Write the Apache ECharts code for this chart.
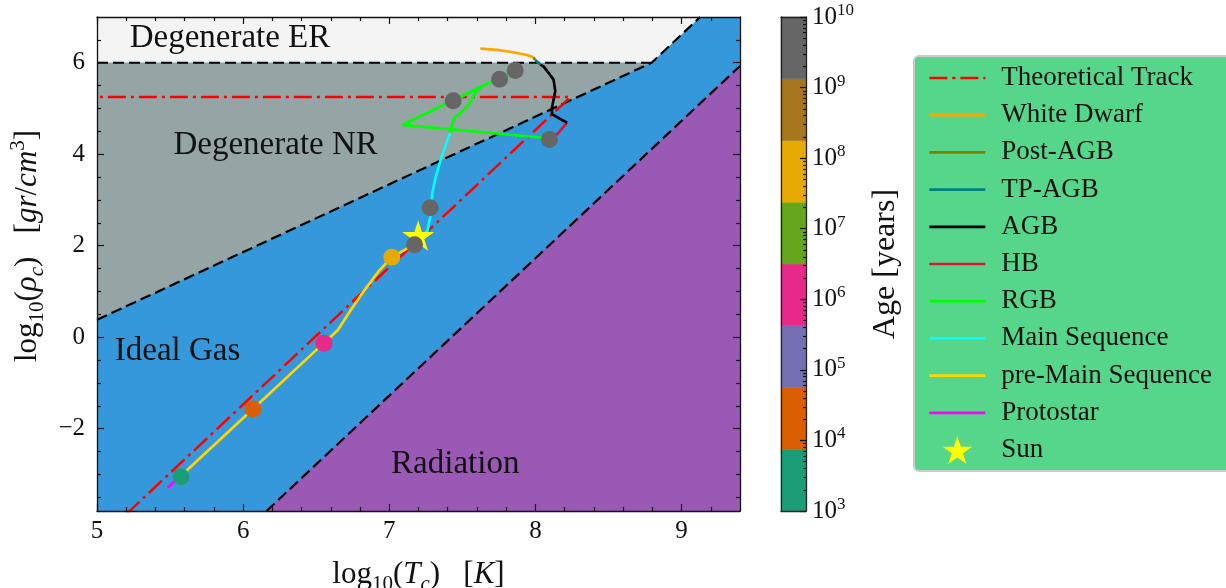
<!DOCTYPE html>
<html>
<head>
<meta charset="utf-8">
<script src="https://cdn.jsdelivr.net/npm/echarts@6/dist/echarts.min.js"></script>
<style>
  html, body { margin: 0; padding: 0; background: #ffffff; }
  #chart { width: 1226px; height: 588px; }
</style>
</head>
<body>
<div id="chart"></div>
<script>
// ---------------- data ----------------
// axes
const xTicks = [5, 6, 7, 8, 9];
const yTicks = [-2, 0, 2, 4, 6];
const ageTicks = [3, 4, 5, 6, 7, 8, 9, 10];          // log10(age / yr)
const ageBandEdges = [3, 3.875, 4.75, 5.625, 6.5, 7.375, 8.25, 9.125, 10];
const ageBandColors = ['#1b9e77', '#d95f02', '#7570b3', '#e7298a', '#66a61e', '#e6ab02', '#a6761d', '#666666'];

// equation-of-state regimes, (log10 Tc, log10 rho_c)
const idealGasRegion = [[5, -3.8], [9.4, -3.8], [9.4, 7], [5, 7]];
const degenerateERRegion = [[5, 6], [8.795, 6], [9.128, 7], [5, 7]];
const degenerateNRRegion = [[5, 0.38], [8.795, 6], [5, 6]];
const radiationRegion = [[6.16, -3.8], [9.4, -3.8], [9.4, 5.93]];
const nrBoundary = [[5, 0.38], [8.795, 6], [9.128, 7]];
const erBoundary = [[5, 6], [8.795, 6]];
const radBoundary = [[6.16, -3.8], [9.4, 5.93]];

// theoretical track: adiabatic contraction, then degeneracy plateau
const theoreticalTrack = [[5.2, -3.87], [8.24, 5.25], [5.0, 5.25]];

// evolutionary phases of the stellar model
const protostar = [[5.482, -3.29], [5.562, -3.07]];
const preMainSequence = [[5.562, -3.07], [6.067, -1.57], [6.551, -0.13], [6.647, 0.15], [6.736, 0.59],
  [6.831, 1.03], [6.927, 1.44], [7.016, 1.75], [7.111, 1.92], [7.175, 2.03]];
const mainSequence = [[7.175, 2.03], [7.2, 2.13], [7.262, 2.33], [7.282, 2.66], [7.294, 3.14],
  [7.317, 3.49], [7.35, 3.86], [7.396, 4.29], [7.418, 4.47]];
const rgb = [[7.418, 4.47], [7.43, 4.65], [7.446, 4.80], [7.487, 4.90], [7.543, 5.08], [7.589, 5.34],
  [7.635, 5.49], [7.703, 5.58], [7.76, 5.67], [7.828, 5.78], [7.862, 5.83], [7.726, 5.63],
  [7.439, 5.17], [7.726, 5.63], [7.089, 4.64], [8.055, 4.36]];
const hb = [[8.055, 4.36], [8.146, 4.43], [8.182, 4.56], [8.217, 4.69]];
const agb = [[8.217, 4.69], [8.192, 4.73], [8.113, 4.88], [8.113, 5.01], [8.136, 5.38],
  [8.124, 5.63], [8.09, 5.78], [8.055, 5.92], [8.033, 5.96]];
const tpAgb = [[8.033, 5.96], [7.999, 6.06]];
const postAgb = [[7.999, 6.06], [7.986, 6.12]];
const whiteDwarf = [[7.986, 6.12], [7.942, 6.17], [7.849, 6.23], [7.737, 6.28], [7.623, 6.31]];

const sun = [[7.198, 2.22]];
// snapshots along the track: log10 Tc, log10 rho_c, log10 age
const snapshots = [[5.575, -3.05, 3.5], [6.067, -1.57, 4.3], [6.553, -0.13, 6.0], [7.017, 1.75, 7.9],
  [7.173, 2.02, 9.6], [7.28, 2.83, 9.8], [7.437, 5.17, 9.95], [7.755, 5.64, 9.97],
  [7.862, 5.83, 9.98], [8.096, 4.32, 9.99]];

const regimeLabels = [
  { name: 'Degenerate ER', value: [5.22, 6.54] },
  { name: 'Degenerate NR', value: [5.52, 4.19] },
  { name: 'Ideal Gas', value: [5.118, -0.32] },
  { name: 'Radiation', value: [7.009, -2.79] }
];

// ---------------- helpers ----------------
const FONT = '"Liberation Serif", "DejaVu Serif", serif';
const AX = '#111111';

const xMinor = [];
for (let i = 1; i < 22; i++) { const v = +(5 + i * 0.2).toFixed(1); if (!Number.isInteger(v)) xMinor.push(v); }
const yMinor = [];
for (let v = -3.5; v <= 6.5; v += 0.5) { if (!(Number.isInteger(v) && v % 2 === 0)) yMinor.push(v); }
const ageMinor = [];
for (let n = 3; n < 10; n++) for (let k = 2; k <= 9; k++) ageMinor.push(n + Math.log10(k));

function tickFmt(v) { return v < 0 ? '\u2212' + Math.abs(v) : String(v); }

function starSymbol() {
  let d = '';
  for (let i = 0; i < 10; i++) {
    const r = i % 2 ? 0.382 : 1;
    const a = -Math.PI / 2 + i * Math.PI / 5;
    d += (i ? 'L' : 'M') + (r * Math.cos(a)).toFixed(4) + ' ' + (r * Math.sin(a)).toFixed(4) + ' ';
  }
  return 'path://' + d + 'Z';
}

function bandColor(logAge) {
  for (let i = 0; i < ageBandColors.length; i++) {
    if (logAge < ageBandEdges[i + 1]) return ageBandColors[i];
  }
  return ageBandColors[ageBandColors.length - 1];
}

function frameLine(color) {
  return { show: true, onZero: false, lineStyle: { color: color || AX, width: 1.3 } };
}

function valueAxis(extra) {
  return Object.assign({
    type: 'value', z: 6, scale: false,
    splitLine: { show: false },
    axisLine: { show: false, onZero: false },
    axisTick: { show: false },
    axisLabel: { show: false },
    minorTick: { show: false },
    minorSplitLine: { show: false }
  }, extra);
}

function ticksAt(values, len) {
  return { show: true, inside: true, length: len, customValues: values, lineStyle: { color: AX, width: 1.2 } };
}

const regions = [
  { pts: idealGasRegion, color: '#3498db' },
  { pts: degenerateERRegion, color: '#f4f4f4' },
  { pts: degenerateNRRegion, color: '#95a5a6' },
  { pts: radiationRegion, color: '#9b59b6' }
];

function phaseLine(name, data, color) {
  return {
    name: name, type: 'line', data: data, xAxisIndex: 0, yAxisIndex: 0,
    symbol: 'none', showSymbol: false, z: 5, clip: true, animation: false,
    lineStyle: { color: color, width: 2.7 }, itemStyle: { color: color }
  };
}

function boundaryLine(data) {
  return {
    type: 'line', data: data, xAxisIndex: 0, yAxisIndex: 0, symbol: 'none', z: 3,
    silent: true, animation: false, clip: true,
    lineStyle: { color: '#000000', width: 2.2, type: [11, 5] }
  };
}

const axisNameRich = {
  r: { fontFamily: FONT, fontSize: 31, lineHeight: 40, color: AX, verticalAlign: 'middle' },
  i: { fontFamily: FONT, fontSize: 31, lineHeight: 40, color: AX, fontStyle: 'italic', verticalAlign: 'middle' },
  s: { fontFamily: FONT, fontSize: 21, lineHeight: 28, color: AX, verticalAlign: 'bottom' },
  si: { fontFamily: FONT, fontSize: 21, lineHeight: 28, color: AX, fontStyle: 'italic', verticalAlign: 'bottom' },
  p: { fontFamily: FONT, fontSize: 21, lineHeight: 26, color: AX, verticalAlign: 'top' }
};

const legendNames = ['Theoretical Track', 'White Dwarf', 'Post-AGB', 'TP-AGB', 'AGB', 'HB', 'RGB',
  'Main Sequence', 'pre-Main Sequence', 'Protostar'];

const chart = echarts.init(document.getElementById('chart'), null, { renderer: 'canvas' });

const option = {
  backgroundColor: '#ffffff',
  animation: false,
  textStyle: { fontFamily: FONT },
  grid: [
    { left: 97, top: 17, width: 643, height: 494, containLabel: false, outerBoundsMode: 'none', show: false },
    { left: 781, top: 17, width: 25, height: 494, containLabel: false, outerBoundsMode: 'none', show: false }
  ],
  xAxis: [
    valueAxis({
      gridIndex: 0, position: 'bottom', min: 5, max: 9.4,
      axisLine: frameLine(),
      axisTick: ticksAt(xTicks, 7),
      axisLabel: { show: true, customValues: xTicks, formatter: tickFmt, margin: 8,
        fontFamily: FONT, fontSize: 25, color: AX },
      name: '{r|log}{s|10}{r|(}{i|T}{si|c}{r|)   [}{i|K}{r|]}',
      nameLocation: 'middle', nameGap: 44,
      nameTextStyle: { rich: axisNameRich }
    }),
    valueAxis({ gridIndex: 0, position: 'bottom', min: 5, max: 9.4, axisTick: ticksAt(xMinor, 4) }),
    valueAxis({ gridIndex: 0, position: 'top', min: 5, max: 9.4, axisLine: frameLine(), axisTick: ticksAt(xTicks, 7) }),
    valueAxis({ gridIndex: 0, position: 'top', min: 5, max: 9.4, axisTick: ticksAt(xMinor, 4) }),
    valueAxis({ gridIndex: 1, position: 'bottom', min: 0, max: 1, axisLine: frameLine('#222') }),
    valueAxis({ gridIndex: 1, position: 'top', min: 0, max: 1, axisLine: frameLine('#222') })
  ],
  yAxis: [
    valueAxis({
      gridIndex: 0, position: 'left', min: -3.8, max: 7,
      axisLine: frameLine(),
      axisTick: ticksAt(yTicks, 7),
      axisLabel: { show: true, customValues: yTicks, formatter: tickFmt, margin: 12,
        fontFamily: FONT, fontSize: 25, color: AX },
      name: '{r|log}{s|10}{r|(}{i|ρ}{si|c}{r|)   [}{i|gr}{r|/}{i|cm}{p|3}{r|]}',
      nameLocation: 'middle', nameGap: 48,
      nameTextStyle: { rich: axisNameRich, padding: [0, 0, 0, 36] }
    }),
    valueAxis({ gridIndex: 0, position: 'left', min: -3.8, max: 7, axisTick: ticksAt(yMinor, 4) }),
    valueAxis({ gridIndex: 0, position: 'right', min: -3.8, max: 7, axisLine: frameLine(), axisTick: ticksAt(yTicks, 7) }),
    valueAxis({ gridIndex: 0, position: 'right', min: -3.8, max: 7, axisTick: ticksAt(yMinor, 4) }),
    valueAxis({
      gridIndex: 1, position: 'right', min: 3, max: 10,
      axisLine: frameLine('#222'),
      axisTick: ticksAt(ageTicks, 6),
      axisLabel: {
        show: true, customValues: ageTicks, margin: 6,
        formatter: function (v) { return '{b|10}{e|' + v + '}'; },
        rich: {
          b: { fontFamily: FONT, fontSize: 25, lineHeight: 30, color: AX, verticalAlign: 'middle' },
          e: { fontFamily: FONT, fontSize: 17, lineHeight: 17, color: AX, verticalAlign: 'top' }
        }
      },
      name: 'Age [years]', nameLocation: 'middle', nameRotate: 90, nameGap: 64,
      nameTextStyle: { fontFamily: FONT, fontSize: 32, color: AX }
    }),
    valueAxis({ gridIndex: 1, position: 'right', min: 3, max: 10, axisTick: ticksAt(ageMinor, 3) }),
    valueAxis({ gridIndex: 1, position: 'left', min: 3, max: 10, axisLine: frameLine('#222') })
  ],
  legend: {
    show: true, orient: 'vertical', left: 914, top: 56,
    padding: [8, 24, 7, 14],
    backgroundColor: '#55d68a', borderColor: '#cccccc', borderWidth: 2, borderRadius: 5,
    itemWidth: 56, itemHeight: 28, itemGap: 9.2,
    itemStyle: { opacity: 0 },
    lineStyle: { width: 2.7 },
    textStyle: { fontFamily: FONT, fontSize: 27, lineHeight: 28, color: AX, padding: [0, 0, 0, 11] },
    data: legendNames.map(function (n) { return { name: n }; }).concat([
      { name: 'Sun', itemStyle: { opacity: 1, color: '#ffff00' } }
    ]),
    selectedMode: false
  },
  series: [
    {
      type: 'custom', xAxisIndex: 0, yAxisIndex: 0, silent: true, z: 1, clip: true,
      data: regions.map(function (r) { return r.pts[0]; }),
      renderItem: function (params, api) {
        const reg = regions[params.dataIndex];
        return {
          type: 'polygon',
          shape: { points: reg.pts.map(function (p) { return api.coord(p); }) },
          style: { fill: reg.color, stroke: null }
        };
      }
    },
    boundaryLine(nrBoundary),
    boundaryLine(erBoundary),
    boundaryLine(radBoundary),
    {
      type: 'scatter', xAxisIndex: 0, yAxisIndex: 0, silent: true, z: 4,
      data: regimeLabels, symbolSize: 1, itemStyle: { color: 'rgba(0,0,0,0)' },
      label: {
        show: true, position: 'right', distance: 0, opacity: 1,
        formatter: function (p) { return p.name; },
        fontFamily: FONT, fontSize: 33, color: '#111111'
      }
    },
    {
      name: 'Theoretical Track', type: 'line', data: theoreticalTrack, xAxisIndex: 0, yAxisIndex: 0,
      symbol: 'none', showSymbol: false, z: 4, clip: true,
      lineStyle: { color: '#ff0000', width: 2.5, type: [18, 5, 3, 5] }, itemStyle: { color: '#ff0000' }
    },
    phaseLine('Protostar', protostar, '#ff00ff'),
    phaseLine('pre-Main Sequence', preMainSequence, '#ffd700'),
    phaseLine('Main Sequence', mainSequence, '#00ffff'),
    phaseLine('RGB', rgb, '#00ff00'),
    phaseLine('HB', hb, '#dc143c'),
    phaseLine('AGB', agb, '#000000'),
    phaseLine('TP-AGB', tpAgb, '#008080'),
    phaseLine('Post-AGB', postAgb, '#808000'),
    phaseLine('White Dwarf', whiteDwarf, '#ffa500'),
    {
      name: 'Sun', type: 'scatter', xAxisIndex: 0, yAxisIndex: 0, z: 6,
      data: sun, symbol: starSymbol(), symbolKeepAspect: true, symbolSize: 32,
      itemStyle: { color: '#ffff00', opacity: 1 }
    },
    {
      name: 'Age', type: 'scatter', xAxisIndex: 0, yAxisIndex: 0, z: 7,
      data: snapshots, symbolSize: 17,
      itemStyle: { color: function (p) { return bandColor(p.data[2]); }, opacity: 1 }
    },
    {
      type: 'custom', xAxisIndex: 4, yAxisIndex: 4, silent: true, z: 2,
      data: ageBandColors.map(function (c, i) { return [0.5, (ageBandEdges[i] + ageBandEdges[i + 1]) / 2]; }),
      renderItem: function (params, api) {
        const i = params.dataIndex;
        const p0 = api.coord([0, ageBandEdges[i]]);
        const p1 = api.coord([1, ageBandEdges[i + 1]]);
        return {
          type: 'rect',
          shape: { x: p0[0], y: p1[1], width: p1[0] - p0[0], height: p0[1] - p1[1] },
          style: { fill: ageBandColors[i], stroke: ageBandColors[i], lineWidth: 0.5 }
        };
      }
    }
  ]
};

chart.setOption(option);
</script>
</body>
</html>
